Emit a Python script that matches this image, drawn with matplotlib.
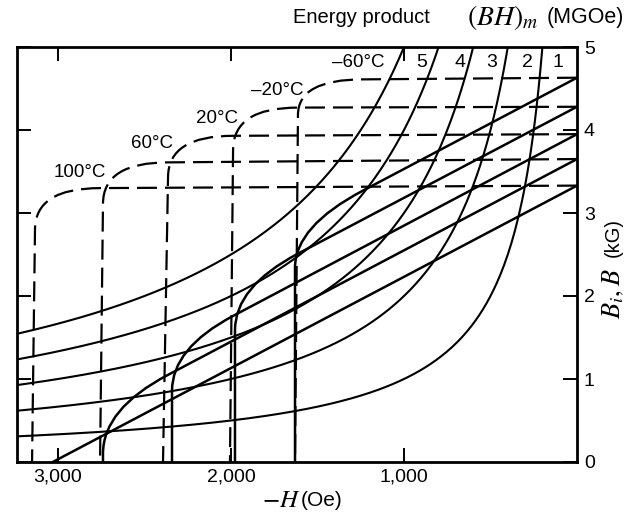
import numpy as np
import matplotlib
matplotlib.use("Agg")
import matplotlib.pyplot as plt
from matplotlib.path import Path
from matplotlib.patches import PathPatch

plt.rcParams['font.family'] = ['Liberation Sans', 'DejaVu Sans']
plt.rcParams['mathtext.fontset'] = 'stix'

# temperature curves (H in Oe, B in kG)
temps = ['\u201360\u00b0C', '\u201320\u00b0C', '20\u00b0C', '60\u00b0C', '100\u00b0C']
br = [4.63, 4.28, 3.95, 3.65, 3.33]            # B = Bi at H = 0
bi_flat = [4.61, 4.27, 3.93, 3.61, 3.30]       # intrinsic level where knee begins
bi_knee_h = [1237, 1613, 1988, 2364, 2757]     # start of the knee
hci = [1613, 1988, 2364, 2740, 3133]           # intrinsic coercivity
bi_drop = [4.18, 3.76, 3.43, 3.11, 2.80]       # Bi where curve turns vertical
hci_foot = [1630, 2006, 2393, 2757, 3150]      # foot of the dashed vertical

# normal B curves (straight part ends at the knee, then turns down)
b_knee_h = [1237, 1613, 1988, 2364]
b_knee = [3.27, 2.51, 1.76, 1.05]
hc = [1630, 1977, 2341, 2740]
b_corner = [2.84, 2.11, 1.37, 0.64]
b_drop = [2.34, 1.59, 0.86, 0.10]
hc_100 = 3030                                  # 100°C line reaches B = 0

# energy product hyperbolas (MGOe)
energy = [1, 2, 3, 4, 5]

fig = plt.figure(figsize=(6.35, 5.16), dpi=100)
ax = fig.add_axes([17 / 635, 54 / 516, 560 / 635, 415 / 516])
ax.set_xlim(3237, 0)
ax.set_ylim(0, 5)

dash = (0, (9, 3.6))
for i in range(len(temps)):
    verts = [(0, br[i]), (bi_knee_h[i], bi_flat[i]),
             (hci[i], bi_flat[i]), (hci[i], bi_drop[i]),
             (hci_foot[i], 0)]
    codes = [Path.MOVETO, Path.LINETO, Path.CURVE3, Path.CURVE3, Path.LINETO]
    ax.add_patch(PathPatch(Path(verts, codes), fc='none', ec='black',
                           lw=1.6, linestyle=dash, capstyle='butt'))

for i in range(len(b_knee)):
    verts = [(0, br[i]), (b_knee_h[i], b_knee[i]),
             (hc[i], b_corner[i]), (hc[i], b_drop[i]), (hc[i], 0)]
    codes = [Path.MOVETO, Path.LINETO, Path.CURVE3, Path.CURVE3, Path.LINETO]
    ax.add_patch(PathPatch(Path(verts, codes), fc='none', ec='black', lw=1.8))
ax.plot([0, hc_100], [br[4], 0], color='black', lw=1.8)

for e in energy:
    h = np.linspace(e * 1000 / 5.2, 3300, 300)
    ax.plot(h, e * 1000 / h, color='black', lw=1.5)

# labels
lab_pos = [(1266, 4.81), (1734, 4.48), (2081, 4.14), (2457, 3.84), (2873, 3.49)]
for t, (x, y) in zip(temps, lab_pos):
    ax.text(x, y, t, ha='center', va='center', fontsize=13.5)
num_pos = [110, 289, 491, 676, 896]
for e, x in zip(energy, num_pos):
    ax.text(x, 4.81, str(e), ha='center', va='center', fontsize=14)

ax.set_xticks([1000, 2000, 3000])
ax.set_xticklabels(['1,000', '2,000', '3,000'])
ax.set_yticks([0, 1, 2, 3, 4, 5])
ax.tick_params(direction='in', length=10, width=1.4, labelsize=14,
               top=True, right=True, left=True, labelleft=False,
               labelright=True, pad=5)
for s in ax.spines.values():
    s.set_linewidth(2.0)

fig.text(300 / 635, 1 - 500 / 516, r'$-H\,$', ha='right', va='center',
         fontsize=18)
fig.text(301 / 635, 1 - 500 / 516, '(Oe)', ha='left', va='center',
         fontsize=15)
fig.text(613 / 635, 1 - 294 / 516, r'$B_i,B$', ha='center', va='center',
         rotation=90, fontsize=19)
fig.text(613 / 635, 1 - 238 / 516, '(kG)', ha='center', va='center',
         rotation=90, fontsize=14.5)
fig.text(293 / 635, 1 - 17 / 516, 'Energy product', ha='left', va='center',
         fontsize=14.5)
fig.text(467 / 635, 1 - 17 / 516, r'$(BH)_m$', ha='left', va='center',
         fontsize=20)
fig.text(547 / 635, 1 - 17 / 516, '(MGOe)', ha='left', va='center',
         fontsize=15.5)

fig.savefig('out.png', dpi=100)
